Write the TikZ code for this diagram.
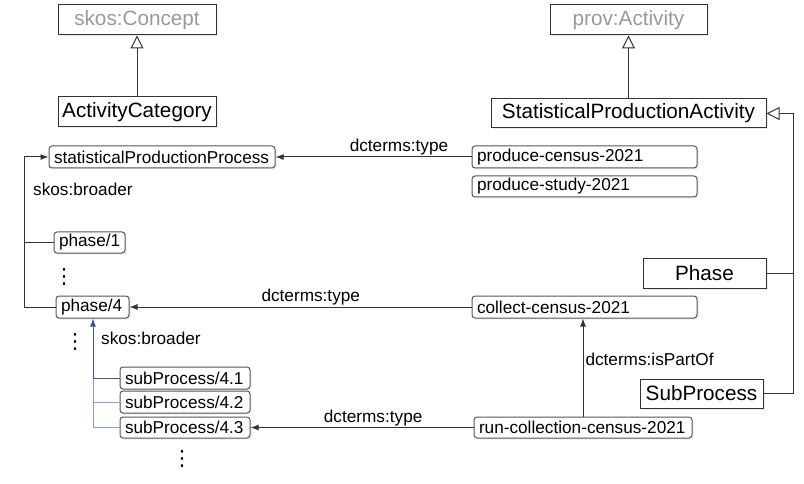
\documentclass[tikz,border=0pt]{standalone}
\usepackage{fontspec}
\setmainfont{Liberation Sans}
\newfontfamily\symfont{DejaVu Sans}
\usetikzlibrary{arrows.meta,shadows}

\definecolor{linegray}{HTML}{333333}
\definecolor{boxgray}{HTML}{555555}
\definecolor{darkblue}{HTML}{3C5A8C}
\definecolor{lightblue}{HTML}{7FA0D0}

\newcommand{\bigfont}{\fontsize{20.7}{24}\selectfont}
\newcommand{\smallfont}{\fontsize{17.2}{20}\selectfont}

\tikzset{
  shade box/.style={drop shadow={shadow xshift=1.5pt,shadow yshift=-1.5pt,fill=black!15}},
  cls/.style={draw=linegray, fill=white, line width=1pt, minimum height=30pt,
    inner sep=0pt, font=\bigfont, shade box},
  extcls/.style={cls, text=black!40},
  inst/.style={draw=boxgray, fill=white, rounded corners=3pt, line width=1pt,
    minimum height=22pt, inner xsep=5pt, inner ysep=0pt, align=left,
    font=\smallfont, shade box},
  lbl/.style={font=\smallfont, inner sep=1pt},
  dotsnode/.style={font=\symfont\fontsize{21}{21}\selectfont, inner sep=0pt},
  rel/.style={draw=linegray, line width=1pt, -{Latex[length=8pt,width=6pt]}},
  gen/.style={draw=linegray, line width=1pt, -{Triangle[open,length=13pt,width=13pt]}},
  plain/.style={draw=linegray, line width=1pt},
}

\begin{document}
\begin{tikzpicture}[x=1pt,y=-1pt]
  \useasboundingbox (0,0) rectangle (804,484);

  % classes
  \node[extcls, minimum width=158pt] (concept) at (137,20) {skos:Concept};
  \node[cls, minimum width=158pt] (actcat) at (137,112) {ActivityCategory};
  \node[extcls, minimum width=157pt] (provact) at (628.5,20) {prov:Activity};
  \node[cls, minimum width=275pt, minimum height=29pt] (spa) at (628.5,113.5) {StatisticalProductionActivity};
  \node[cls, minimum width=123pt] (phase) at (704.5,273) {Phase};
  \node[cls, minimum width=123pt, minimum height=29pt] (subproc) at (701.5,393.5) {SubProcess};

  % concepts
  \node[inst, text width=216pt] (spp) at (162,157) {statisticalProductionProcess};
  \node[inst, text width=61pt, minimum height=21pt] (ph1) at (89.5,242.5) {phase/1};
  \node[inst, text width=63pt] (ph4) at (92.5,307) {phase/4};
  \node[inst, text width=120pt] (sp41) at (185,378) {subProcess/4.1};
  \node[inst, text width=120pt] (sp42) at (185,402) {subProcess/4.2};
  \node[inst, text width=120pt, minimum height=21pt] (sp43) at (185,427.5) {subProcess/4.3};

  \node[dotsnode] (dots1) at (64,277) {⋮};
  \node[dotsnode] (dots2) at (75,342) {⋮};
  \node[dotsnode] (dots3) at (182,459) {⋮};

  % activities
  \node[inst, text width=215pt] (pc) at (584.5,157) {produce-census-2021};
  \node[inst, text width=215pt, minimum height=21pt] (ps) at (584.5,186.5) {produce-study-2021};
  \node[inst, text width=215pt] (cc) at (584.5,307) {collect-census-2021};
  \node[inst, text width=208pt, minimum height=21pt] (rc) at (583,427.5) {run-collection-census-2021};

  % subclass links
  \draw[gen] (actcat) -- (concept);
  \draw[gen] (spa) -- (provact);
  \coordinate (rrail) at (793,0);
  \draw[gen] (subproc.east) -- (subproc.east -| rrail) |- (spa.east);
  \draw[plain] (phase.east) -- (phase.east -| rrail);

  % dcterms:type
  \draw[rel] (pc) -- node[lbl, above, pos=.37] (t1) {dcterms:type} (spp);
  \draw[rel] (cc) -- node[lbl, above, pos=.47] (t2) {dcterms:type} (ph4);
  \draw[rel] (rc) -- node[lbl, above, pos=.45] (t3) {dcterms:type} (sp43);
  \draw[rel] (rc.north) -- node[lbl, anchor=west, pos=.585, xshift=1pt] (part) {dcterms:isPartOf} (rc.north |- cc.south);

  % skos:broader, phases
  \coordinate (lrail) at (24,0);
  \draw[rel] (ph4.west) -- (ph4.west -| lrail) |- (spp.west);
  \draw[plain] (ph1.west) -- (ph1.west -| lrail);
  \node[lbl, anchor=base west] (b1) at (32,196) {skos:broader};

  % skos:broader, sub-processes
  \coordinate (brail) at (93,0);
  \draw[draw=lightblue, line width=1pt] (sp43.west) -- (sp43.west -| brail) -- (sp41.west -| brail);
  \draw[draw=lightblue, line width=1pt] (sp42.west) -- (sp42.west -| brail);
  \draw[draw=darkblue, line width=1pt, -{Latex[length=8pt,width=6pt]}] (sp41.west -| brail) -- (ph4.south -| brail);
  \draw[plain, draw=boxgray] (sp41.west) -- (sp41.west -| brail);
  \node[lbl, anchor=base west] (b2) at (100,344) {skos:broader};

\end{tikzpicture}
\end{document}
